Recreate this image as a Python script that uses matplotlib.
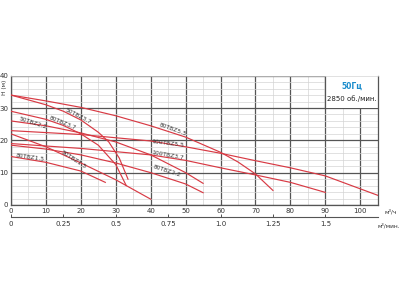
import matplotlib.pyplot as plt
from matplotlib.patches import Rectangle

# pump curves: flow Q (m3/h) and head H (m)
q_80tbz55 = [0, 10, 20, 30, 40, 50, 60, 65, 70, 75]
h_80tbz55 = [34, 32.2, 30.2, 27.6, 24.5, 21, 16.3, 13.3, 9.6, 4.5]
q_50tbz37 = [0, 10, 15, 20, 25, 28, 31, 33.5]
h_50tbz37 = [34, 31, 29, 26.3, 22.5, 19.5, 14.5, 8]
q_80tbz37 = [0, 10, 15, 20, 25, 30, 33]
h_80tbz37 = [29, 26.5, 24.6, 22, 18.5, 12.5, 6]
q_50tbz22 = [0, 10, 20, 30, 40, 50, 55]
h_50tbz22 = [26, 24.5, 22.3, 19.5, 15.5, 10, 6.7]
q_100tbz55 = [0, 20, 40, 50, 60, 70, 80, 90, 105]
h_100tbz55 = [23, 21.8, 19.8, 18, 16, 13.7, 11.5, 9, 3]
q_100tbz37 = [0, 20, 40, 50, 60, 70, 80, 90]
h_100tbz37 = [19, 17.5, 15.5, 13.8, 11.5, 9.3, 7, 3.9]
q_80tbz22 = [0, 10, 20, 30, 40, 50, 55]
h_80tbz22 = [18.5, 17.3, 15.5, 13, 10, 6.5, 3.8]
q_50tbz15 = [0, 10, 20, 30, 40]
h_50tbz15 = [22, 18, 13, 7.8, 1.8]
q_80tbz15 = [0, 10, 20, 27]
h_80tbz15 = [15, 13.2, 10.5, 7]

curves = [
    (q_80tbz55, h_80tbz55), (q_50tbz37, h_50tbz37), (q_80tbz37, h_80tbz37),
    (q_50tbz22, h_50tbz22), (q_100tbz55, h_100tbz55), (q_100tbz37, h_100tbz37),
    (q_80tbz22, h_80tbz22), (q_50tbz15, h_50tbz15), (q_80tbz15, h_80tbz15),
]

# label text, position, rotation
names = ['50TBZ3.7', '80TBZ3.7', '50TBZ2.2', '80TBZ1.5', '50TBZ1.5',
         '80TBZ5.5', '100TBZ5.5', '100TBZ3.7', '80TBZ2.2']
name_x = [19.2, 14.8, 6.2, 5.5, 18, 46.2, 45, 45, 44.5]
name_y = [27.6, 25.5, 25.3, 14.8, 14.0, 23.3, 19.1, 15.3, 10.6]
name_rot = [-27, -22, -18, -8, -33, -20, -7, -10, -18]

red = '#d83a44'

fig = plt.figure(figsize=(4, 3), dpi=100)
ax = fig.add_axes([0.0275, 0.3167, 0.9168, 0.431])

for q, h in curves:
    ax.plot(q, h, color=red, lw=0.85, zorder=3)

for t, x, y, r in zip(names, name_x, name_y, name_rot):
    ax.text(x, y, t, fontsize=4.3, color='#333333', rotation=r,
            ha='center', va='center', zorder=4)

ax.set_xlim(0, 105)
ax.set_ylim(0, 40)
ax.set_xticks(range(0, 101, 10))
ax.set_xticks(range(0, 106, 5), minor=True)
ax.set_yticks(range(0, 41, 10))
ax.set_yticks(range(0, 41, 2), minor=True)
ax.grid(which='major', color='#555555', lw=0.9, zorder=1)
ax.grid(which='minor', color='#d4d4d4', lw=0.5, zorder=0)
ax.tick_params(which='both', length=0, labelsize=5, colors='#333333', pad=2)
ax.spines['top'].set_color('#d4d4d4')
ax.spines['top'].set_linewidth(0.5)
for s in ['left', 'bottom', 'right']:
    ax.spines[s].set_color('#555555')
    ax.spines[s].set_linewidth(0.9)

# info box in the top right corner
ax.add_patch(Rectangle((90, 30), 15, 10, facecolor='white', edgecolor='none', zorder=2))
ax.plot([90, 90], [30, 40], color='#555555', lw=0.9, zorder=2)
ax.text(97.5, 36.8, '50Гц', fontsize=5.5, color='#1a8ccc', fontweight='bold',
        ha='center', va='center', zorder=3)
ax.text(97.5, 32.8, '2850 об./мин.', fontsize=5, color='#222222',
        ha='center', va='center', zorder=3)

fig.text(0.004, 0.735, 'H (м)', fontsize=4.2, rotation=90, ha='left', va='top',
         color='#333333')
ax.text(107, -1.2, 'м³/ч', fontsize=4.3, color='#333333', ha='left', va='top')

# second flow scale in m3/min
ax2 = fig.add_axes([0.0275, 0.2767, 0.9168, 0.0001])
ax2.set_xlim(0, 105 / 60)
mins = [0, 0.25, 0.5, 0.75, 1.0, 1.25, 1.5]
ax2.set_xticks(mins)
ax2.set_xticklabels(['0', '0.25', '0.5', '0.75', '1.0', '1.25', '1.5'])
ax2.set_yticks([])
for s in ['top', 'right', 'left']:
    ax2.spines[s].set_visible(False)
ax2.spines['bottom'].set_color('#555555')
ax2.spines['bottom'].set_linewidth(0.8)
ax2.tick_params(axis='x', direction='in', length=2.5, width=0.6, labelsize=5,
                colors='#333333', pad=3)
fig.text(0.945, 0.255, 'м³/мин.', fontsize=4.2, color='#333333', ha='left',
         va='top')

fig.savefig('out.png', dpi=100)
